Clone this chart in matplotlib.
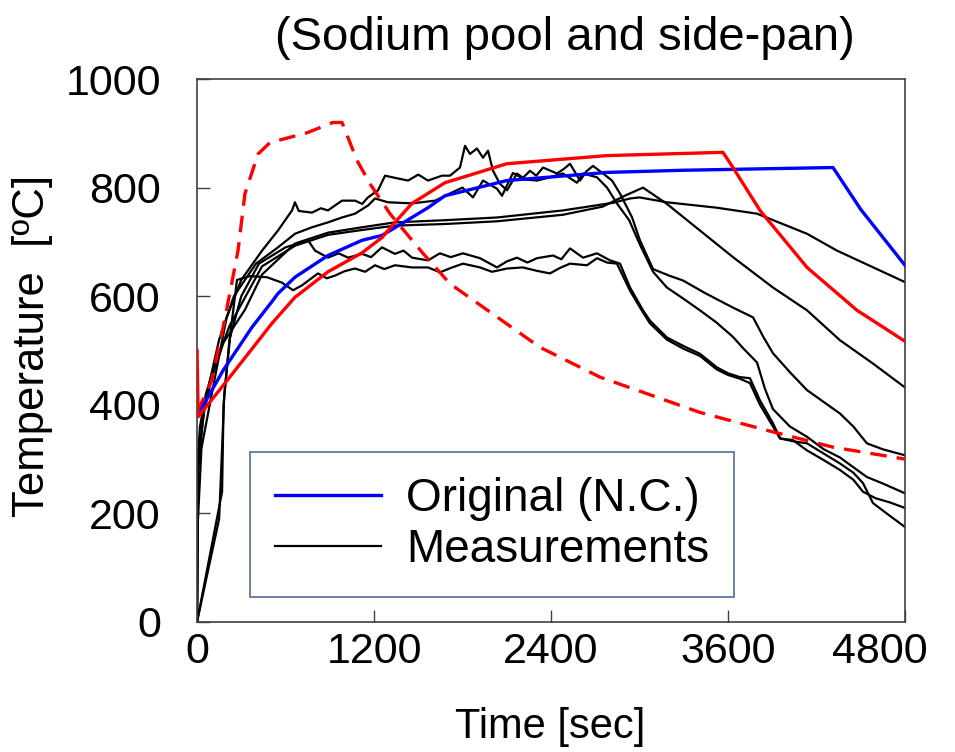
import matplotlib
matplotlib.use('Agg')
import matplotlib.pyplot as plt
from matplotlib.transforms import ScaledTranslation

plt.rcParams['font.family'] = ['Liberation Sans', 'DejaVu Sans']

# calculations
t_orig = [0, 20, 176, 373, 508, 549, 664, 888, 1119, 1254, 1390, 1566, 1681, 2100, 2780, 3300, 3905, 4312, 4500, 4800]
T_orig = [393, 388, 463, 543, 590, 605, 635, 675, 703, 712, 734, 763, 785, 813, 828, 832, 835, 837, 760, 657]

t_red = [0, 0, 8, 190, 312, 508, 664, 888, 1119, 1254, 1342, 1458, 1681, 2100, 2780, 3566, 3634, 3817, 4136, 4475, 4800]
T_red = [500, 500, 378, 440, 482, 550, 598, 645, 680, 708, 736, 771, 809, 844, 859, 865, 837, 758, 653, 574, 517]

t_dash = [0, 100, 190, 278, 325, 414, 495, 746, 922, 983, 1085, 1173, 1308, 1532, 1715, 2325, 2732, 3410, 3864, 4312, 4800]
T_dash = [385, 445, 560, 684, 789, 862, 883, 901, 920, 920, 850, 807, 752, 679, 623, 506, 451, 386, 353, 322, 300]

# measurements
t_m1 = [0, 3, 15, 50, 100, 180, 325, 441, 664, 888, 1119, 1342, 1681, 2034, 2481, 2820, 2936, 3000, 3186, 3525, 3797, 4136, 4339, 4800]
T_m1 = [0, 250, 320, 390, 450, 515, 575, 640, 697, 717, 727, 736, 740, 745, 758, 772, 780, 782, 773, 763, 752, 715, 684, 626]

t_m2 = [0, 3, 20, 60, 130, 220, 330, 441, 664, 888, 1119, 1342, 1681, 2034, 2481, 2750, 2900, 3024, 3186, 3410, 3634, 3905, 4136, 4359, 4583, 4800]
T_m2 = [0, 290, 360, 420, 480, 545, 600, 655, 693, 713, 722, 730, 733, 738, 750, 765, 785, 800, 770, 721, 672, 616, 574, 519, 476, 432]

t_u1 = [0, 5, 30, 100, 200, 300, 441, 549, 644, 664, 690, 780, 840, 888, 940, 983, 1071, 1120, 1159, 1227, 1275, 1342,
        1431, 1500, 1566, 1661, 1715, 1783, 1817, 1851, 1898, 1939, 1973, 2007, 2054, 2102, 2169, 2210, 2258, 2300, 2346,
        2441, 2490, 2529, 2597, 2640, 2685, 2753, 2814, 2868, 2950, 3003, 3092, 3200, 3295, 3450, 3634, 3770, 3840,
        3905, 4020, 4136, 4250, 4359, 4450, 4542, 4650, 4800]
T_u1 = [0, 180, 320, 420, 560, 630, 684, 721, 758, 773, 757, 754, 762, 758, 768, 776, 776, 770, 782, 795, 822, 818,
        813, 824, 813, 822, 822, 837, 877, 862, 872, 855, 868, 831, 807, 795, 826, 818, 831, 822, 837,
        826, 835, 844, 813, 830, 840, 826, 813, 789, 745, 703, 650, 638, 629, 605, 579, 561, 525,
        495, 460, 427, 405, 384, 360, 329, 318, 307]

t_u2 = [0, 8, 50, 150, 250, 400, 549, 664, 780, 888, 983, 1071, 1159, 1207, 1295, 1458, 1614, 1720,
        1800, 1871, 1939, 2034, 2068, 2142, 2220, 2305, 2393, 2481, 2576, 2617, 2712, 2780, 2847, 2930,
        3003, 3092, 3186, 3300, 3410, 3520, 3634, 3700, 3797, 3850, 3905, 4020, 4136, 4250, 4359, 4450,
        4542, 4650, 4800]
T_u2 = [0, 280, 400, 520, 600, 660, 690, 715, 727, 736, 745, 752, 767, 780, 773, 771, 776, 790,
        800, 782, 813, 798, 785, 827, 815, 813, 819, 826, 809, 826, 819, 800, 771, 740,
        695, 645, 616, 595, 574, 552, 525, 505, 478, 430, 392, 360, 341, 318, 303, 285,
        267, 255, 237]

t_l1 = [0, 170, 180, 220, 300, 420, 600, 753, 800, 888, 960, 1024, 1119, 1180, 1254, 1342, 1400, 1458, 1566, 1647, 1720, 1803,
        1919, 2034, 2100, 2169, 2240, 2305, 2414, 2470, 2529, 2617, 2712, 2800, 2868, 2936, 3024, 3071, 3186, 3300, 3410,
        3525, 3600, 3681, 3749, 3817, 3905, 3953, 4040, 4136, 4250, 4359, 4450, 4515, 4600, 4700, 4800]
T_l1 = [0, 240, 400, 520, 600, 660, 690, 703, 684, 671, 679, 671, 678, 672, 690, 678, 684, 671, 666, 679, 672, 679,
        670, 653, 664, 671, 662, 670, 675, 668, 688, 671, 679, 666, 660, 616, 574, 555, 524, 508, 494,
        469, 458, 451, 449, 408, 366, 338, 335, 316, 298, 280, 262, 240, 228, 220, 210]

t_l2 = [0, 150, 185, 230, 271, 360, 474, 576, 651, 712, 820, 880, 936, 1000, 1071, 1140, 1207, 1270, 1342, 1458, 1566, 1647,
        1720, 1803, 1919, 2000, 2102, 2210, 2300, 2393, 2460, 2529, 2644, 2712, 2780, 2847, 2936, 3024, 3071, 3186, 3300, 3410, 3525,
        3600, 3681, 3749, 3817, 3905, 3953, 4040, 4136, 4250, 4359, 4450, 4515, 4583, 4700, 4800]
T_l2 = [0, 190, 420, 540, 630, 637, 635, 625, 611, 620, 642, 633, 638, 646, 651, 645, 657, 650, 657, 653, 653, 644,
        652, 660, 653, 645, 651, 653, 647, 642, 652, 660, 657, 670, 662, 660, 610, 570, 550, 520, 503, 490, 465,
        455, 448, 440, 400, 360, 338, 333, 329, 310, 292, 275, 256, 219, 195, 175]

measurements = [(t_m1, T_m1), (t_m2, T_m2), (t_u1, T_u1), (t_u2, T_u2), (t_l1, T_l1), (t_l2, T_l2)]

fig = plt.figure(figsize=(9.55, 7.52), dpi=100)
ax = fig.add_axes([0.2063, 0.1729, 0.7413, 0.7220])

for i, (t, T) in enumerate(measurements):
    ax.plot(t, T, color='black', lw=1.6, label='Measurements' if i == 0 else None, zorder=2)

ax.plot(t_dash, T_dash, color='#ff0000', lw=2.4, linestyle=(0, (5, 3)), zorder=3)
ax.plot(t_orig, T_orig, color='#0000ff', lw=2.4, label='Original (N.C.)', zorder=4)
ax.plot(t_red, T_red, color='#ff0000', lw=2.4, zorder=5)

ax.set_xlim(0, 4800)
ax.set_ylim(0, 1000)
ax.set_xticks([0, 1200, 2400, 3600, 4800])
ax.set_yticks([0, 200, 400, 600, 800, 1000])
ax.tick_params(axis='both', direction='in', length=9, width=1, colors='#404040', labelcolor='black')
ax.tick_params(axis='x', labelsize=31, pad=7)
ax.tick_params(axis='y', labelsize=31, pad=26)
for s in ax.spines.values():
    s.set_color('#404040')
    s.set_linewidth(1.2)

# last x label pulled inside the canvas, like the original
last = ax.get_xticklabels()[-1]
last.set_transform(last.get_transform() + ScaledTranslation(-0.25, 0, fig.dpi_scale_trans))

handles, labels = ax.get_legend_handles_labels()
order = [labels.index('Original (N.C.)'), labels.index('Measurements')]
leg = ax.legend([handles[k] for k in order], [labels[k] for k in order],
                loc='upper left', bbox_to_anchor=(0.075, 0.313), fontsize=33,
                frameon=True, fancybox=False, edgecolor='#4F6D95', framealpha=1,
                handlelength=2.3, handletextpad=0.55, labelspacing=0.15, borderpad=0.55,
                borderaxespad=0)
leg.get_frame().set_linewidth(1.2)

fig.text(565 / 955, 1 - 38 / 752, '(Sodium pool and side-pan)', fontsize=34, ha='center', va='center')
fig.text(550 / 955, 1 - 727 / 752, 'Time [sec]', fontsize=30, ha='center', va='center')
fig.text(33 / 955, 1 - 346 / 752, 'Temperature  [ºC]', fontsize=31.5, ha='center', va='center', rotation=90)

fig.savefig('out.png', dpi=100)
